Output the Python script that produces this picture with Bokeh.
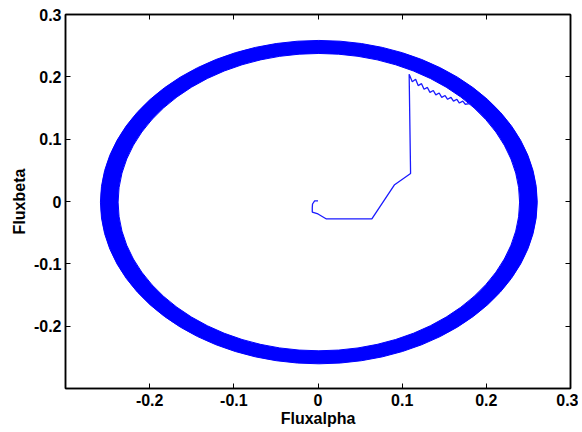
from bokeh.plotting import figure
from bokeh.models import Range1d, FixedTicker, LinearAxis
from bokeh.embed import file_html
from bokeh.resources import INLINE

# Steady-state flux ring
ring_cx = [0.001]
ring_cy = [-0.001]
ring_outer_d = [0.519]
ring_inner_d = [0.477]

# Start-up transient of the flux trajectory
trans_x = [0.0, -0.004, -0.0065, -0.0068, -0.0068, 0.0, 0.010, 0.064, 0.091, 0.110, 0.1083,
           0.112, 0.116, 0.119, 0.123, 0.126, 0.130, 0.133, 0.137, 0.140, 0.144, 0.147,
           0.151, 0.154, 0.158, 0.161, 0.165, 0.168, 0.172, 0.175, 0.180]
trans_y = [0.001, 0.001, -0.004, -0.010, -0.017, -0.020, -0.028, -0.028, 0.027, 0.045, 0.204,
           0.192, 0.196, 0.186, 0.189, 0.180, 0.183, 0.175, 0.178, 0.171, 0.174, 0.167,
           0.170, 0.164, 0.167, 0.161, 0.164, 0.158, 0.161, 0.156, 0.157]

xticks = [-0.2, -0.1, 0, 0.1, 0.2, 0.3]
yticks = [-0.2, -0.1, 0, 0.1, 0.2, 0.3]
tick_labels = {-0.2: "-0.2", -0.1: "-0.1", 0: "0", 0.1: "0.1", 0.2: "0.2", 0.3: "0.3"}

p = figure(output_backend="svg", toolbar_location=None,
           x_range=Range1d(-0.3, 0.3), y_range=Range1d(-0.3, 0.3),
           frame_width=505, frame_height=374,
           min_border_left=65, min_border_top=14, min_border_right=8, min_border_bottom=44,
           x_axis_label="Fluxalpha", y_axis_label="Fluxbeta")

p.ellipse(x=ring_cx, y=ring_cy, width=ring_outer_d, height=ring_outer_d,
          fill_color="#0000ff", line_color="#0000ff", line_width=1)
p.ellipse(x=ring_cx, y=ring_cy, width=ring_inner_d, height=ring_inner_d,
          fill_color="white", line_color="#0000ff", line_width=1)
p.line(trans_x, trans_y, line_color="#1a1aff", line_width=1.3)

p.grid.visible = False
p.outline_line_color = "black"
p.outline_line_width = 1.5

for ax, ticks in ((p.xaxis[0], xticks), (p.yaxis[0], yticks)):
    ax.ticker = FixedTicker(ticks=ticks)
    ax.major_tick_in = 5
    ax.major_tick_out = 0
    ax.minor_tick_line_color = None
    ax.axis_line_width = 1.5
    ax.major_tick_line_width = 1
    ax.major_label_text_font = "Liberation Sans"
    ax.major_label_text_font_style = "bold"
    ax.major_label_text_font_size = "16px"
    ax.major_label_text_color = "black"
    ax.axis_label_text_font = "Liberation Sans"
    ax.axis_label_text_font_style = "bold"
    ax.axis_label_text_font_size = "16px"
    ax.axis_label_text_color = "black"
    ax.major_label_overrides = tick_labels

p.xaxis[0].major_label_standoff = 5
p.xaxis[0].axis_label_standoff = 1
p.yaxis[0].major_label_standoff = 4
p.yaxis[0].axis_label_standoff = 3

top = LinearAxis(ticker=FixedTicker(ticks=xticks), major_label_text_color=None,
                 major_label_text_font_size="1px",
                 major_tick_in=5, major_tick_out=0, minor_tick_line_color=None,
                 axis_line_width=1.5, major_label_standoff=0)
right = LinearAxis(ticker=FixedTicker(ticks=yticks), major_label_text_color=None,
                   major_label_text_font_size="1px",
                   major_tick_in=5, major_tick_out=0, minor_tick_line_color=None,
                   axis_line_width=1.5, major_label_standoff=0)
p.add_layout(top, "above")
p.add_layout(right, "right")

open("out.html", "w").write(file_html(p, INLINE))
